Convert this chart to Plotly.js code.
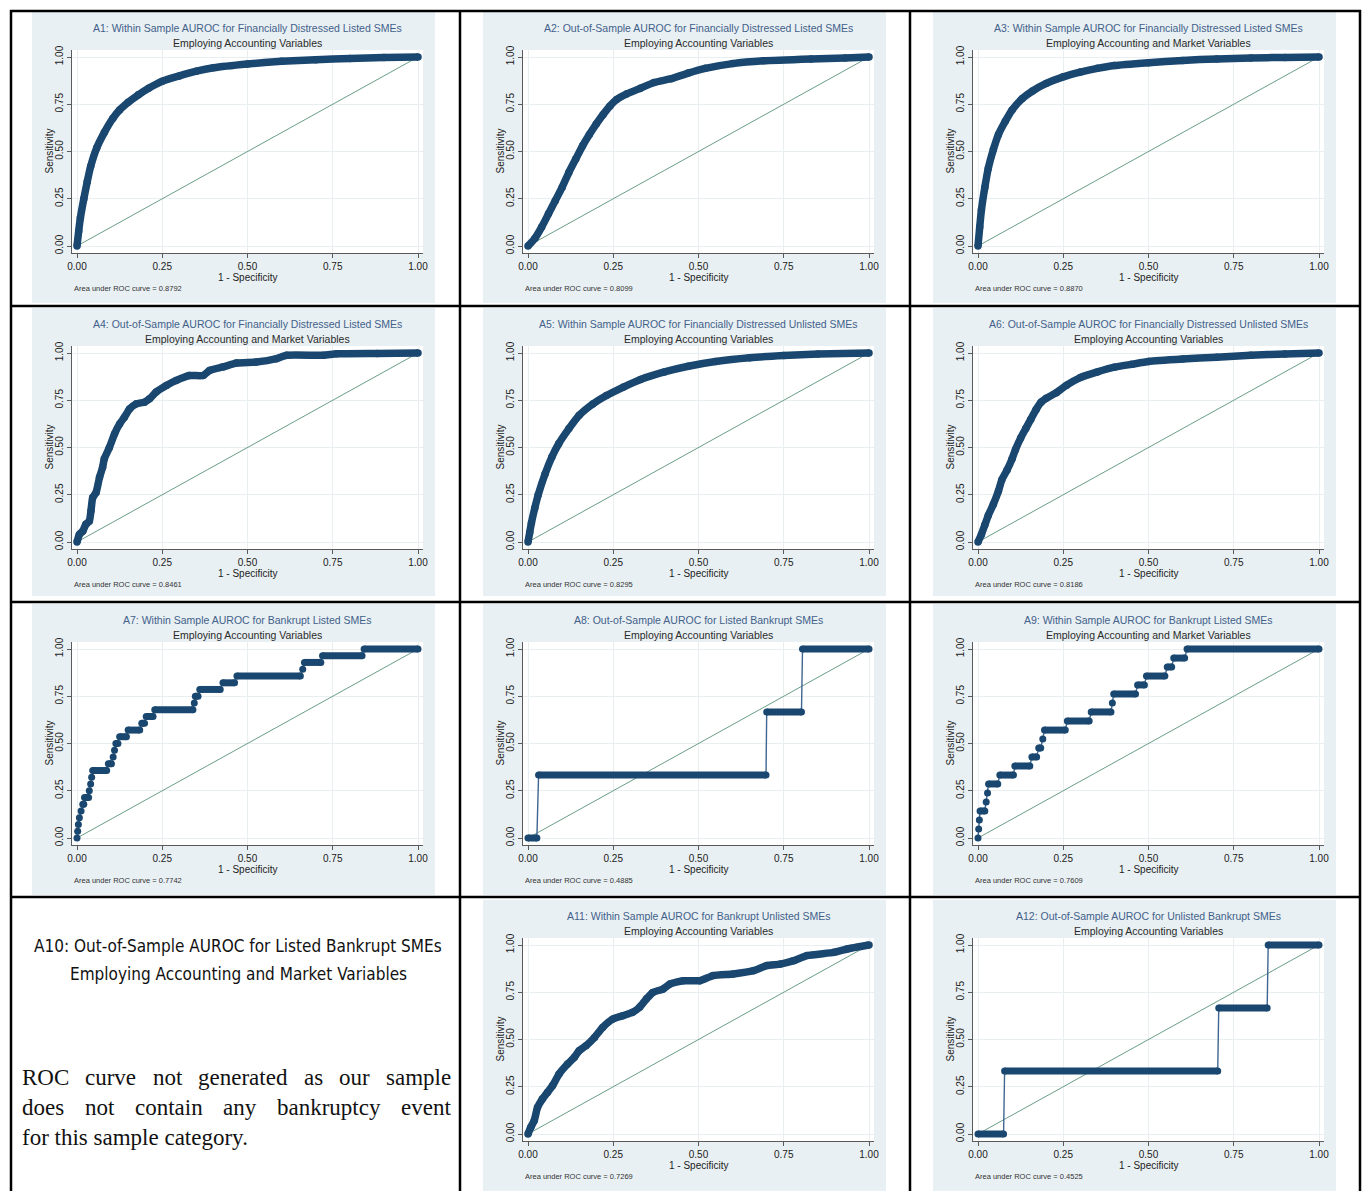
<!DOCTYPE html>
<html>
<head>
<meta charset="utf-8">
<script src="https://cdn.plot.ly/plotly-3.0.1.min.js"></script>
<style>
html, body { margin: 0; padding: 0; background: #ffffff; }
#chart { width: 1363px; height: 1191px; }
</style>
</head>
<body>
<div id="chart"></div>
<script>
// ===================== DATA =====================
const tickVals = [0, 0.25, 0.5, 0.75, 1];
const diagX = [0, 1];
const diagY = [0, 1];

const panelNames = ["A1", "A2", "A3", "A4", "A5", "A6", "A7", "A8", "A9", "A11", "A12"];
const titleLine1 = [
  "A1: Within Sample AUROC for Financially Distressed Listed SMEs",
  "A2: Out-of-Sample AUROC for Financially Distressed Listed SMEs",
  "A3: Within Sample AUROC for Financially Distressed Listed SMEs",
  "A4: Out-of-Sample AUROC for Financially Distressed Listed SMEs",
  "A5: Within Sample AUROC for Financially Distressed Unlisted SMEs",
  "A6: Out-of-Sample AUROC for Financially Distressed Unlisted SMEs",
  "A7: Within Sample AUROC for Bankrupt Listed SMEs",
  "A8: Out-of-Sample AUROC for Listed Bankrupt SMEs",
  "A9: Within Sample AUROC for Bankrupt Listed SMEs",
  "A11: Within Sample AUROC for Bankrupt Unlisted SMEs",
  "A12: Out-of-Sample AUROC for Unlisted Bankrupt SMEs"
];
const titleLine2 = [
  "Employing Accounting Variables",
  "Employing Accounting Variables",
  "Employing Accounting and Market Variables",
  "Employing Accounting and Market Variables",
  "Employing Accounting Variables",
  "Employing Accounting Variables",
  "Employing Accounting Variables",
  "Employing Accounting Variables",
  "Employing Accounting and Market Variables",
  "Employing Accounting Variables",
  "Employing Accounting Variables"
];
const aucValues = ["0.8792", "0.8099", "0.8870", "0.8461", "0.8295", "0.8186", "0.7742", "0.4885", "0.7609", "0.7269", "0.4525"];
const xTitle = "1 - Specificity";
const yTitle = "Sensitivity";
const aucPrefix = "Area under ROC curve = ";

// Smooth ROC curves (1 - specificity, sensitivity)
const a1X = [0, 0.005, 0.01, 0.02, 0.03, 0.04, 0.058, 0.08, 0.105, 0.125, 0.15, 0.18, 0.21, 0.25, 0.3, 0.35, 0.4, 0.5, 0.6, 0.7, 0.8, 0.9, 1];
const a1Y = [0, 0.08, 0.15, 0.25, 0.34, 0.42, 0.52, 0.6, 0.675, 0.72, 0.76, 0.8, 0.835, 0.872, 0.9, 0.925, 0.943, 0.963, 0.977, 0.986, 0.992, 0.997, 1];

const a2X = [0, 0.02, 0.04, 0.06, 0.08, 0.1, 0.12, 0.14, 0.16, 0.18, 0.2, 0.22, 0.24, 0.26, 0.29, 0.33, 0.37, 0.42, 0.47, 0.52, 0.6, 0.69, 0.83, 0.93, 1];
const a2Y = [0, 0.04, 0.1, 0.17, 0.24, 0.31, 0.39, 0.46, 0.53, 0.59, 0.645, 0.695, 0.74, 0.775, 0.805, 0.835, 0.865, 0.885, 0.915, 0.94, 0.965, 0.98, 0.99, 0.995, 1];

const a3X = [0, 0.005, 0.01, 0.02, 0.03, 0.045, 0.06, 0.08, 0.1, 0.13, 0.16, 0.2, 0.25, 0.3, 0.35, 0.4, 0.5, 0.6, 0.7, 0.8, 0.9, 1];
const a3Y = [0, 0.1, 0.19, 0.31, 0.41, 0.51, 0.59, 0.66, 0.72, 0.78, 0.82, 0.86, 0.895, 0.92, 0.94, 0.955, 0.97, 0.982, 0.99, 0.995, 0.998, 1];

const a4X = [0, 0.007, 0.017, 0.026, 0.036, 0.041, 0.046, 0.056, 0.066, 0.075, 0.08, 0.095, 0.11, 0.125, 0.139, 0.154, 0.174, 0.198, 0.213, 0.232, 0.262, 0.291, 0.33, 0.37, 0.389, 0.428, 0.468, 0.526, 0.585, 0.615, 0.723, 0.762, 0.88, 1];
const a4Y = [0, 0.04, 0.058, 0.094, 0.11, 0.165, 0.235, 0.262, 0.342, 0.395, 0.44, 0.5, 0.572, 0.625, 0.66, 0.704, 0.731, 0.74, 0.758, 0.793, 0.828, 0.855, 0.881, 0.881, 0.908, 0.926, 0.947, 0.952, 0.97, 0.988, 0.988, 0.996, 0.998, 1];

const a5X = [0, 0.005, 0.01, 0.02, 0.03, 0.05, 0.07, 0.09, 0.12, 0.15, 0.19, 0.23, 0.28, 0.33, 0.4, 0.47, 0.55, 0.65, 0.75, 0.85, 1];
const a5Y = [0, 0.05, 0.1, 0.18, 0.25, 0.36, 0.45, 0.52, 0.6, 0.67, 0.73, 0.775, 0.82, 0.86, 0.9, 0.93, 0.955, 0.975, 0.987, 0.995, 1];

const a6X = [0, 0.01, 0.02, 0.03, 0.045, 0.06, 0.07, 0.085, 0.1, 0.11, 0.125, 0.14, 0.155, 0.17, 0.185, 0.2, 0.23, 0.26, 0.3, 0.35, 0.4, 0.45, 0.5, 0.6, 0.7, 0.8, 0.9, 1];
const a6Y = [0, 0.04, 0.09, 0.14, 0.2, 0.27, 0.33, 0.38, 0.44, 0.49, 0.55, 0.6, 0.65, 0.7, 0.74, 0.76, 0.79, 0.83, 0.87, 0.9, 0.925, 0.94, 0.955, 0.968, 0.978, 0.988, 0.995, 1];

const a11X = [0, 0.008, 0.018, 0.028, 0.042, 0.057, 0.072, 0.091, 0.116, 0.136, 0.15, 0.17, 0.195, 0.219, 0.249, 0.278, 0.307, 0.327, 0.347, 0.366, 0.396, 0.416, 0.455, 0.504, 0.543, 0.602, 0.661, 0.7, 0.74, 0.779, 0.818, 0.897, 0.936, 1];
const a11Y = [0, 0.035, 0.07, 0.141, 0.185, 0.22, 0.256, 0.317, 0.37, 0.406, 0.441, 0.467, 0.511, 0.564, 0.608, 0.626, 0.644, 0.67, 0.714, 0.749, 0.767, 0.793, 0.811, 0.811, 0.838, 0.847, 0.864, 0.891, 0.899, 0.917, 0.944, 0.961, 0.979, 1];

// Step ROC curves: each run of equal sensitivity goes from runLo to runHi at runLevel
const a7Lo = [0, 0.002, 0.004, 0.007, 0.012, 0.017, 0.022, 0.036, 0.04, 0.043, 0.046, 0.092, 0.106, 0.11, 0.114, 0.125, 0.15, 0.19, 0.203, 0.228, 0.344, 0.347, 0.36, 0.428, 0.469, 0.662, 0.667, 0.72, 0.842];
const a7Hi = [0, 0.002, 0.004, 0.007, 0.012, 0.02, 0.034, 0.036, 0.04, 0.043, 0.087, 0.101, 0.106, 0.11, 0.12, 0.145, 0.184, 0.198, 0.223, 0.34, 0.344, 0.355, 0.42, 0.462, 0.655, 0.662, 0.715, 0.836, 1];
const a7Level = [0, 0.036, 0.071, 0.107, 0.143, 0.179, 0.214, 0.25, 0.286, 0.321, 0.357, 0.393, 0.429, 0.464, 0.5, 0.536, 0.571, 0.607, 0.643, 0.679, 0.714, 0.75, 0.786, 0.821, 0.857, 0.893, 0.929, 0.964, 1];

const a8Lo = [0, 0.031, 0.7, 0.805];
const a8Hi = [0.026, 0.698, 0.802, 1];
const a8Level = [0, 0.333, 0.667, 1];

const a9Lo = [0, 0.002, 0.004, 0.006, 0.024, 0.028, 0.031, 0.064, 0.108, 0.158, 0.178, 0.19, 0.195, 0.262, 0.332, 0.394, 0.398, 0.468, 0.494, 0.555, 0.574, 0.613];
const a9Hi = [0, 0.002, 0.004, 0.02, 0.024, 0.028, 0.058, 0.104, 0.152, 0.172, 0.184, 0.19, 0.256, 0.326, 0.39, 0.394, 0.462, 0.488, 0.548, 0.568, 0.606, 1];
const a9Level = [0, 0.048, 0.095, 0.143, 0.19, 0.238, 0.286, 0.333, 0.381, 0.429, 0.476, 0.524, 0.571, 0.619, 0.667, 0.714, 0.762, 0.81, 0.857, 0.905, 0.952, 1];

const a12Lo = [0, 0.078, 0.706, 0.851];
const a12Hi = [0.075, 0.703, 0.848, 1];
const a12Level = [0, 0.333, 0.667, 1];

// A10 text cell
const a10Title = ["A10: Out-of-Sample AUROC for Listed Bankrupt SMEs", "Employing Accounting and Market Variables"];
const a10Body = ["ROC curve not generated as our sample", "does not contain any bankruptcy event", "for this sample category."];
const a10Justify = [true, true, false];

// ===================== LAYOUT GEOMETRY =====================
const W = 1363, H = 1191;
const fx = p => p / W;
const fy = p => 1 - p / H;

const colLeft = [32, 483, 933];
const rowTop = [12, 308, 604, 900];
const rowBottom = [303, 596, 895, 1191];
const panelCol = [0, 1, 2, 0, 1, 2, 0, 1, 2, 1, 2];
const panelRow = [0, 0, 0, 1, 1, 1, 2, 2, 2, 3, 3];

const smoothSets = {
  A1: [a1X, a1Y], A2: [a2X, a2Y], A3: [a3X, a3Y], A4: [a4X, a4Y],
  A5: [a5X, a5Y], A6: [a6X, a6Y], A11: [a11X, a11Y]
};
const stepSets = {
  A7: [a7Lo, a7Hi, a7Level], A8: [a8Lo, a8Hi, a8Level],
  A9: [a9Lo, a9Hi, a9Level], A12: [a12Lo, a12Hi, a12Level]
};

const NAVY = '#1a476f';
const DIAG = '#6a9e86';
const BG = '#e9f0f3';
const SANS = 'Liberation Sans, Arial, Helvetica, sans-serif';

const traces = [];
const shapes = [];
const annotations = [];
const layout = {
  width: W, height: H,
  margin: { l: 0, r: 0, t: 0, b: 0, pad: 0 },
  paper_bgcolor: '#ffffff',
  plot_bgcolor: '#ffffff',
  showlegend: false,
  hovermode: false,
  font: { family: SANS, color: '#222' }
};

const axisBase = {
  showline: true, linecolor: '#5a5a5a', linewidth: 1,
  ticks: 'outside', ticklen: 4, tickwidth: 1, tickcolor: '#5a5a5a',
  tickmode: 'array', tickvals: tickVals, tickformat: '.2f',
  tickfont: { family: SANS, size: 10, color: '#222' },
  showgrid: true, gridcolor: '#e9eff1', gridwidth: 1,
  zeroline: false, fixedrange: true, automargin: false
};

panelNames.forEach((name, i) => {
  const L = colLeft[panelCol[i]];
  const T = rowTop[panelRow[i]];
  const B = rowBottom[panelRow[i]];
  const s = i === 0 ? '' : String(i + 1);

  // panel background
  shapes.push({ type: 'rect', xref: 'paper', yref: 'paper', layer: 'below',
    x0: fx(L), x1: fx(L + 403), y0: fy(B), y1: fy(T),
    fillcolor: BG, line: { width: 0 } });
  shapes.push({ type: 'rect', xref: 'paper', yref: 'paper', layer: 'below',
    x0: fx(L + 40), x1: fx(L + 391), y0: fy(T + 241), y1: fy(T + 38),
    fillcolor: '#ffffff', line: { width: 0 } });

  layout['xaxis' + s] = Object.assign({}, axisBase, {
    domain: [fx(L + 40), fx(L + 391)], range: [-5 / 341, 1 + 5 / 341], anchor: 'y' + s
  });
  layout['yaxis' + s] = Object.assign({}, axisBase, {
    domain: [fy(T + 241), fy(T + 38)], range: [-7 / 189, 1 + 7 / 189], anchor: 'x' + s,
    tickangle: -90
  });

  // diagonal reference
  traces.push({ x: diagX, y: diagY, xaxis: 'x' + s, yaxis: 'y' + s, type: 'scatter',
    mode: 'lines', line: { color: DIAG, width: 1 } });

  if (smoothSets[name]) {
    const [cx, cy] = smoothSets[name];
    traces.push({ x: cx, y: cy, xaxis: 'x' + s, yaxis: 'y' + s, type: 'scatter',
      mode: 'lines+markers', line: { color: NAVY, width: 7.5, shape: 'spline', smoothing: 0.5 },
      marker: { color: NAVY, size: 7.5 } });
  } else {
    const [lo, hi, lv] = stepSets[name];
    const tx = [], ty = [], kx = [], ky = [];
    lo.forEach((v, k) => {
      tx.push(v, hi[k]); ty.push(lv[k], lv[k]);
      if (hi[k] > v) { kx.push(v, hi[k], null); ky.push(lv[k], lv[k], null); }
      else { kx.push(v, null); ky.push(lv[k], null); }
    });
    traces.push({ x: tx, y: ty, xaxis: 'x' + s, yaxis: 'y' + s, type: 'scatter',
      mode: 'lines', line: { color: '#3f6690', width: 1.4 } });
    traces.push({ x: kx, y: ky, xaxis: 'x' + s, yaxis: 'y' + s, type: 'scatter',
      mode: 'lines+markers', connectgaps: false, line: { color: NAVY, width: 7 },
      marker: { color: NAVY, size: 7 } });
  }

  const cxp = L + 215.5;
  annotations.push({ xref: 'paper', yref: 'paper', x: fx(cxp), y: fy(T + 16), text: titleLine1[i],
    showarrow: false, xanchor: 'center', yanchor: 'middle', font: { family: SANS, size: 10.5, color: '#42618a' } });
  annotations.push({ xref: 'paper', yref: 'paper', x: fx(cxp), y: fy(T + 31), text: titleLine2[i],
    showarrow: false, xanchor: 'center', yanchor: 'middle', font: { family: SANS, size: 10.5, color: '#2a2a2a' } });
  annotations.push({ xref: 'paper', yref: 'paper', x: fx(L + 17), y: fy(T + 139.5), text: yTitle,
    textangle: -90, showarrow: false, xanchor: 'center', yanchor: 'middle', font: { family: SANS, size: 10, color: '#222' } });
  annotations.push({ xref: 'paper', yref: 'paper', x: fx(cxp), y: fy(T + 265.5), text: xTitle,
    showarrow: false, xanchor: 'center', yanchor: 'middle', font: { family: SANS, size: 10, color: '#222' } });
  annotations.push({ xref: 'paper', yref: 'paper', x: fx(L + 40), y: fy(T + 276.5), text: aucPrefix + aucValues[i],
    showarrow: false, xanchor: 'left', yanchor: 'middle', font: { family: SANS, size: 7.5, color: '#333' } });
});

// table borders
[11, 460, 910, 1360].forEach(x => shapes.push({ type: 'line', xref: 'paper', yref: 'paper',
  x0: fx(x), x1: fx(x), y0: fy(10), y1: fy(1191), line: { color: '#000', width: 2.5 } }));
[11, 306, 602, 897].forEach(y => shapes.push({ type: 'line', xref: 'paper', yref: 'paper',
  x0: fx(10), x1: fx(1361), y0: fy(y), y1: fy(y), line: { color: '#000', width: 2.5 } }));

// A10 text cell
const ctx = document.createElement('canvas').getContext('2d');
function measure(str, size, fam) { ctx.font = size + 'px ' + fam; return ctx.measureText(str).width; }

const CONDC = '"Liberation Sans Narrow", "DejaVu Sans Condensed", "Arial Narrow", "Liberation Sans", sans-serif';
const CONDP = 'Liberation Sans Narrow, DejaVu Sans Condensed, Arial Narrow, Liberation Sans, sans-serif';
let tSize = 408 / measure(a10Title[0], 100, CONDC) * 100;
tSize = Math.min(19, tSize);
[946, 974].forEach((yc, k) => annotations.push({ xref: 'paper', yref: 'paper', x: fx(238), y: fy(yc),
  text: a10Title[k], showarrow: false, xanchor: 'center', yanchor: 'middle',
  font: { family: CONDP, size: tSize, color: '#111' } }));

const SERIFC = '"Liberation Serif", "DejaVu Serif", serif';
const SERIFP = 'Liberation Serif, DejaVu Serif, serif';
const bSize = 23;
const bodyLeft = 21, bodyRight = 450;
[1077, 1107, 1137].forEach((yc, k) => {
  if (a10Justify[k]) {
    const words = a10Body[k].split(' ');
    const widths = words.map(w => measure(w, bSize, SERIFC));
    const total = widths.reduce((a, b) => a + b, 0);
    const gap = (bodyRight - bodyLeft - total) / (words.length - 1);
    let pos = bodyLeft;
    words.forEach((w, j) => {
      annotations.push({ xref: 'paper', yref: 'paper', x: fx(pos - 1), y: fy(yc), text: w,
        showarrow: false, xanchor: 'left', yanchor: 'middle', font: { family: SERIFP, size: bSize, color: '#111' } });
      pos += widths[j] + gap;
    });
  } else {
    annotations.push({ xref: 'paper', yref: 'paper', x: fx(bodyLeft - 1), y: fy(yc), text: a10Body[k],
      showarrow: false, xanchor: 'left', yanchor: 'middle', font: { family: SERIFP, size: bSize, color: '#111' } });
  }
});

layout.shapes = shapes;
layout.annotations = annotations;

Plotly.newPlot('chart', traces, layout, { staticPlot: true, displayModeBar: false });
</script>
</body>
</html>
